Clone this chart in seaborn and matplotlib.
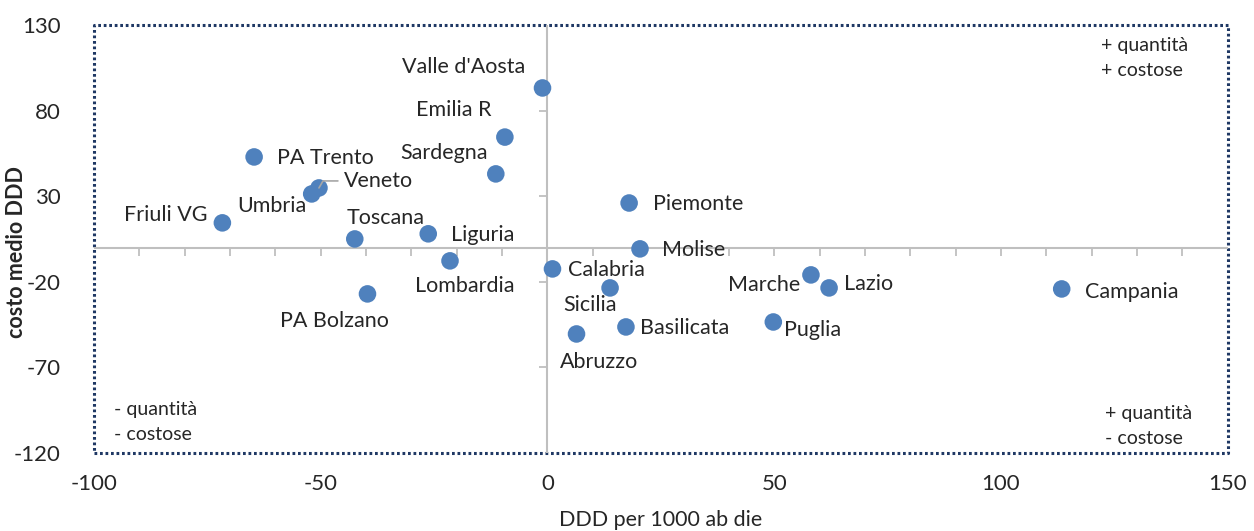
import matplotlib
matplotlib.use("Agg")
import matplotlib.pyplot as plt
import pandas as pd
import seaborn as sns

regions = [
    "Valle d'Aosta", "Emilia R", "Sardegna", "PA Trento", "Veneto", "Umbria",
    "Friuli VG", "Toscana", "Liguria", "Lombardia", "PA Bolzano", "Piemonte",
    "Molise", "Calabria", "Sicilia", "Basilicata", "Abruzzo", "Marche",
    "Lazio", "Puglia", "Campania",
]
ddd_delta = [
    -1.1, -9.4, -11.4, -64.7, -50.4, -52.0,
    -71.7, -42.5, -26.3, -21.5, -39.7, 18.0,
    20.4, 1.1, 13.8, 17.3, 6.4, 58.1,
    62.1, 49.8, 113.4,
]
cost_delta = [
    93.2, 64.5, 43.0, 52.9, 34.8, 31.3,
    14.4, 5.0, 8.0, -7.8, -27.1, 26.0,
    -0.8, -12.5, -23.6, -46.4, -50.5, -16.0,
    -23.6, -43.5, -24.2,
]

# label placement: (dx px, dy px, ha)
label_pos = {
    "Valle d'Aosta": (-17, 21, "right"), "Emilia R": (-13, 27, "right"),
    "Sardegna": (-8, 21, "right"), "PA Trento": (23, -1, "left"),
    "Veneto": (25, 7, "left"), "Umbria": (-5, -12, "right"),
    "Friuli VG": (-15, 8, "right"), "Toscana": (-8, 21, "left"),
    "Liguria": (23, -1, "left"), "Lombardia": (15, -25, "center"),
    "PA Bolzano": (-33, -27, "center"), "Piemonte": (24, -1, "left"),
    "Molise": (22, -1, "left"), "Calabria": (16, -1, "left"),
    "Sicilia": (-20, -17, "center"), "Basilicata": (14, -1, "left"),
    "Abruzzo": (23, -28, "center"), "Marche": (-11, -10, "right"),
    "Lazio": (15, 4, "left"), "Puglia": (11, -8, "left"),
    "Campania": (23, -3, "left"),
}

df = pd.DataFrame({"regione": regions, "ddd": ddd_delta, "costo": cost_delta})

sns.set_style("white")
plt.rcParams["font.family"] = ["Lato", "DejaVu Sans"]
plt.rcParams["axes.unicode_minus"] = False

txt = "#262626"
fig, ax = plt.subplots(figsize=(12.54, 5.31), dpi=100)
fig.subplots_adjust(left=0.075, right=0.979, top=0.953, bottom=0.147)

grey = "#bfbfbf"
ax.axhline(0, color=grey, lw=1.5, zorder=1)
ax.axvline(0, color=grey, lw=1.5, zorder=1)
xt = [v for v in range(-90, 150, 10)]
ax.plot(xt, [0] * len(xt), ls="none", marker=3, ms=6, mew=1.3, color=grey, zorder=1)
yt = [80, 30, -20, -70]
ax.plot([0] * len(yt), yt, ls="none", marker=0, ms=6, mew=1.3, color=grey, zorder=1)

sns.scatterplot(data=df, x="ddd", y="costo", color="#4f81bd", s=160,
                edgecolor="none", ax=ax, zorder=3)

for name, x, y in zip(regions, ddd_delta, cost_delta):
    dx, dy, ha = label_pos[name]
    kw = dict(xytext=(dx, dy), textcoords="offset pixels", ha=ha, va="center",
              fontsize=15.5, color=txt)
    if name == "Veneto":
        kw["arrowprops"] = dict(arrowstyle="-", color="#a6a6a6", lw=1.2,
                                shrinkA=2, shrinkB=0,
                                connectionstyle="angle,angleA=0,angleB=60,rad=0")
    ax.annotate(name, (x, y), **kw)

quad = dict(transform=ax.transAxes, ha="left", va="top", fontsize=14,
            color=txt, linespacing=1.55)
ax.text(0.888, 0.972, "+ quantità\n+ costose", **quad)
ax.text(0.018, 0.121, "- quantità\n- costose", **quad)
ax.text(0.892, 0.112, "+ quantità\n- costose", **quad)

ax.set_xlim(-100, 150)
ax.set_ylim(-120, 130)
ax.set_xticks([-100, -50, 0, 50, 100, 150])
ax.set_yticks([130, 80, 30, -20, -70, -120])
ax.tick_params(axis="both", length=0, labelsize=16, labelcolor=txt)
ax.tick_params(axis="x", pad=15)
ax.tick_params(axis="y", pad=24)

# dotted navy frame around the plot area
for sp in ax.spines.values():
    sp.set_visible(False)
ax.plot([0, 1, 1, 0, 0], [0, 0, 1, 1, 0], transform=ax.transAxes, color="#1f3864",
        lw=2.2, ls=(0, (0.9, 0.9)), clip_on=False, zorder=0.5)

ax.set_xlabel("DDD per 1000 ab die", fontsize=15.5, color=txt, labelpad=12)
ax.set_ylabel("costo medio DDD", fontsize=15.5, fontweight="bold", color=txt)
ax.yaxis.set_label_coords(-0.059, 0.47)

fig.savefig("out.png", dpi=100)
